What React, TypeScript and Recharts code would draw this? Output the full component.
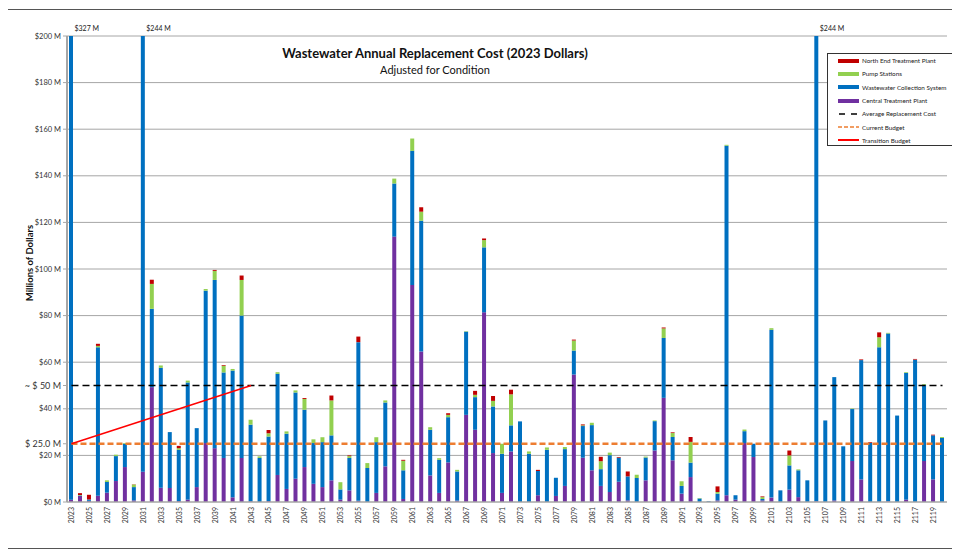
import React from "react";
import {
  BarChart,
  Bar,
  XAxis,
  YAxis,
  CartesianGrid,
  ReferenceLine,
  ReferenceDot,
} from "recharts";

const years = Array.from({ length: 98 }, (_, i) => String(2023 + i));

// $ millions, 2023 .. 2120
const centralPlant = [
  1, 2.6, 0.5, 2.7, 4.0, 9.0, 15.0, 0.7, 13, 49.3,
  6.1, 6.0, 0.4, 1.0, 6.4, 25.3, 23.1, 18.9, 2.0, 18.9,
  0.3, 0, 0.4, 11.6, 5.6, 10.0, 15.0, 7.8, 6.4, 9.3,
  1.0, 5.0, 0.5, 0, 3.9, 15.3, 113.9, 1.3, 93.1, 64.6,
  11.4, 3.9, 17.0, 0.6, 37.4, 31.0, 81.4, 21.0, 3.9, 21.7,
  0, 0, 2.9, 0, 2.6, 6.9, 54.7, 19.0, 13.6, 6.9,
  4.3, 8.7, 0.7, 0, 9.3, 22.1, 44.7, 17.9, 3.6, 10.7,
  0, 0, 0.7, 2.9, 1.0, 25.3, 19.3, 0.7, 1.9, 0,
  5.3, 2.1, 0, 0.3, 0, 0.7, 0, 17.6, 9.7, 0,
  0, 0.3, 0, 1.0, 0, 17.6, 9.7, 0,
];

const collection = [
  326, 0.2, 0.6, 63.7, 4.6, 10.7, 10.0, 5.7, 231, 33.6,
  51.5, 24.0, 22.0, 50.3, 25.3, 65.4, 72.2, 36.7, 54.4, 61.1,
  32.9, 18.9, 27.7, 43.4, 23.7, 37.0, 24.6, 17.5, 19.3, 19.3,
  4.4, 13.9, 68.1, 14.6, 21.8, 27.4, 22.8, 12.3, 57.6, 56.1,
  19.6, 14.2, 19.4, 12.5, 35.7, 14.0, 27.9, 20.0, 16.8, 11.2,
  34.6, 20.7, 10.4, 22.4, 7.8, 15.8, 10.3, 13.6, 19.4, 7.2,
  15.8, 10.3, 10.3, 10.3, 9.8, 12.6, 25.7, 10.0, 3.3, 6.2,
  1.5, 0.3, 2.9, 150.0, 1.9, 5.1, 5.7, 0.6, 72.0, 5.0,
  10.4, 11.5, 9.3, 243.7, 35.0, 52.9, 23.9, 22.3, 51.2, 25.4,
  66.4, 72.0, 37.1, 54.4, 61.1, 32.7, 18.9, 27.5,
];

const pumpStations = [
  0, 0.2, 0, 0.6, 0.7, 0.6, 0.3, 1.1, 0, 10.7,
  1.0, 0, 0.7, 0.8, 0, 0.7, 3.9, 2.9, 0.7, 15.3,
  2.1, 0.7, 1.4, 0.7, 1.0, 0.9, 4.6, 1.6, 2.1, 15.0,
  3.1, 0.8, 0, 2.1, 2.1, 0.9, 2.1, 4.1, 5.3, 3.9,
  1.1, 0.7, 1.0, 0.7, 0.2, 1.0, 3.1, 2.4, 4.3, 13.3,
  0, 1.0, 0, 1.0, 0, 0.9, 4.3, 0.3, 1.0, 3.4,
  1.1, 0, 0, 1.4, 0.4, 0.3, 4.1, 1.7, 2.0, 8.9,
  0.2, 0, 0.7, 0.4, 0, 0.7, 0, 0.8, 0.7, 0,
  4.3, 0.4, 0, 0, 0, 0, 0, 0.2, 0, 0,
  4.3, 0.3, 0, 0.3, 0, 0.3, 0, 0.4,
];

const northEnd = [
  0, 0.8, 2.0, 0.9, 0, 0, 0, 0.1, 0, 1.8,
  0, 0, 1.0, 0, 0, 0, 0.4, 0.3, 0, 1.9,
  0, 0, 1.4, 0, 0, 0, 0.4, 0, 0, 2.1,
  0, 0.3, 2.4, 0, 0, 0, 0, 0.4, 0, 1.9,
  0, 0, 0.7, 0, 0, 1.7, 0.7, 2.1, 0, 2.0,
  0, 0, 0.5, 0, 0, 0, 0.4, 0.4, 0, 1.9,
  0, 0.3, 2.1, 0, 0, 0, 0.4, 0.3, 0, 2.1,
  0, 0, 2.4, 0, 0, 0, 0, 0.3, 0, 0,
  2.1, 0, 0, 0, 0, 0, 0, 0, 0.3, 0.3,
  2.1, 0, 0, 0, 0.3, 0, 0.3, 0,
];

const yTicks = [0, 20, 25, 40, 50, 60, 80, 100, 120, 140, 160, 180, 200];
const gridValues = [20, 40, 60, 80, 100, 120, 140, 160, 180, 200];
const averageCost = 50;
const currentBudget = 25;
const transitionStart = "2023";
const transitionEnd = "2043";
const yMax = 200;

const RED = "#C00000";
const GREEN = "#92D050";
const BLUE = "#0070C0";
const PURPLE = "#7030A0";
const ORANGE = "#ED7D31";

const data = years.map((year, i) => ({
  year,
  central: centralPlant[i],
  collection: collection[i],
  pump: pumpStations[i],
  north: northEnd[i],
}));

const overflow = data
  .map((d) => ({ year: d.year, total: d.central + d.collection + d.pump + d.north }))
  .filter((d) => d.total > yMax);

const yLabel = (v: number) => {
  if (v === 25) return "$ 25.0 M";
  if (v === 50) return "~ $ 50 M";
  return `$${v} M`;
};

const YearTick = (props: any) => {
  const { x, y, payload } = props;
  return (
    <text
      x={x}
      y={y}
      transform={`rotate(-90, ${x}, ${y})`}
      textAnchor="end"
      dy="0.35em"
      fontSize={7}
      fill="#333"
    >
      {payload.value}
    </text>
  );
};

const MoneyTick = (props: any) => {
  const { x, y, payload } = props;
  const v = payload.value;
  const big = v === 25 || v === 50;
  return (
    <text
      x={x}
      y={y}
      textAnchor="end"
      dy="0.35em"
      fontSize={big ? 9 : 7.5}
      fill="#333"
    >
      {yLabel(v)}
    </text>
  );
};

const legendItems = [
  { label: "North End Treatment Plant", color: RED, kind: "box" },
  { label: "Pump Stations", color: GREEN, kind: "box" },
  { label: "Wastewater Collection System", color: BLUE, kind: "box" },
  { label: "Central Treatment Plant", color: PURPLE, kind: "box" },
  { label: "Average Replacement Cost", color: "#000", kind: "dash" },
  { label: "Current Budget", color: ORANGE, kind: "dash2" },
  { label: "Transition Budget", color: "#FF0000", kind: "line" },
];

const Swatch = ({ kind, color }: { kind: string; color: string }) => (
  <svg width={22} height={6} style={{ marginRight: 2, flexShrink: 0 }}>
    {kind === "box" && <rect x={0} y={1} width={21} height={4} fill={color} />}
    {kind === "dash" && (
      <line x1={1} y1={3} x2={21} y2={3} stroke={color} strokeWidth={1.5} strokeDasharray="6 6" />
    )}
    {kind === "dash2" && (
      <line x1={0} y1={3} x2={21} y2={3} stroke={color} strokeWidth={1.5} strokeDasharray="4 2" />
    )}
    {kind === "line" && <line x1={0} y1={3} x2={21} y2={3} stroke={color} strokeWidth={2} />}
  </svg>
);

const OverflowLabel = (text: string) => (props: any) => {
  const { viewBox } = props;
  return (
    <text x={viewBox.x + 4} y={viewBox.y - 4} fontSize={7} fill="#222">
      {text}
    </text>
  );
};

export default function App() {
  return (
    <div
      style={{
        position: "relative",
        width: 944,
        height: 546,
        fontFamily: "Lato, 'Open Sans', sans-serif",
      }}
    >
      <BarChart
        width={944}
        height={546}
        data={data}
        margin={{ top: 28, right: 5, left: 9, bottom: 22 }}
        barSize={4}
      >
        <CartesianGrid vertical={false} stroke="#A6A6A6" horizontalValues={gridValues} />
        <XAxis
          dataKey="year"
          interval={1}
          tick={<YearTick />}
          tickLine={false}
          tickSize={0}
          tickMargin={5}
          axisLine={{ stroke: "#A6A6A6", strokeWidth: 1.5 }}
          height={30}
        />
        <YAxis
          domain={[0, yMax]}
          allowDataOverflow
          ticks={yTicks}
          interval={0}
          tick={<MoneyTick />}
          tickSize={4}
          tickMargin={2}
          tickLine={{ stroke: "#A6A6A6" }}
          axisLine={{ stroke: "#A6A6A6", strokeWidth: 2 }}
          width={50}
        />
        <Bar dataKey="central" stackId="a" fill={PURPLE} isAnimationActive={false} />
        <Bar dataKey="collection" stackId="a" fill={BLUE} isAnimationActive={false} />
        <Bar dataKey="pump" stackId="a" fill={GREEN} isAnimationActive={false} />
        <Bar dataKey="north" stackId="a" fill={RED} isAnimationActive={false} />
        <ReferenceLine
          segment={[
            { x: years[0], y: averageCost },
            { x: years[years.length - 1], y: averageCost },
          ]}
          stroke="#000"
          strokeWidth={1.5}
          strokeDasharray="7 4"
        />
        <ReferenceLine
          segment={[
            { x: years[0], y: currentBudget },
            { x: years[years.length - 1], y: currentBudget },
          ]}
          stroke={ORANGE}
          strokeWidth={2.5}
          strokeDasharray="6 3"
        />
        <ReferenceLine
          segment={[
            { x: transitionStart, y: currentBudget },
            { x: transitionEnd, y: averageCost },
          ]}
          stroke="#FF0000"
          strokeWidth={1.5}
        />
        {overflow.map((d) => (
          <ReferenceDot
            key={d.year}
            x={d.year}
            y={yMax}
            r={1}
            fill="none"
            stroke="none"
            ifOverflow="visible"
            label={OverflowLabel(`$${Math.round(d.total)} M`)}
          />
        ))}
      </BarChart>
      <div
        style={{
          position: "absolute",
          left: -1,
          top: 1,
          width: 947,
          height: 538,
          border: "1.5px solid #555",
          pointerEvents: "none",
        }}
      />
      <div
        style={{
          position: "absolute",
          left: 0,
          top: 37,
          width: 854,
          textAlign: "center",
          fontSize: 13,
          fontWeight: 700,
          lineHeight: "16px",
          color: "#111",
        }}
      >
        Wastewater Annual Replacement Cost (2023 Dollars)
      </div>
      <div
        style={{
          position: "absolute",
          left: 0,
          top: 55,
          width: 854,
          textAlign: "center",
          fontSize: 11,
          lineHeight: "14px",
          color: "#111",
        }}
      >
        Adjusted for Condition
      </div>
      <div
        style={{
          position: "absolute",
          left: -38,
          top: 248,
          width: 120,
          height: 14,
          lineHeight: "14px",
          textAlign: "center",
          fontSize: 9.5,
          fontWeight: 700,
          color: "#111",
          transform: "rotate(-90deg)",
        }}
      >
        Millions of Dollars
      </div>
      <div
        style={{
          position: "absolute",
          left: 819,
          top: 45,
          width: 126,
          height: 93,
          background: "#fff",
          border: "1px solid #333",
          boxSizing: "border-box",
          paddingLeft: 10,
        }}
      >
        {legendItems.map((it) => (
          <div
            key={it.label}
            style={{
              display: "flex",
              alignItems: "center",
              height: 13.3,
              fontSize: 6.3,
              color: "#222",
              whiteSpace: "nowrap",
            }}
          >
            <Swatch kind={it.kind} color={it.color} />
            {it.label}
          </div>
        ))}
      </div>
    </div>
  );
}
